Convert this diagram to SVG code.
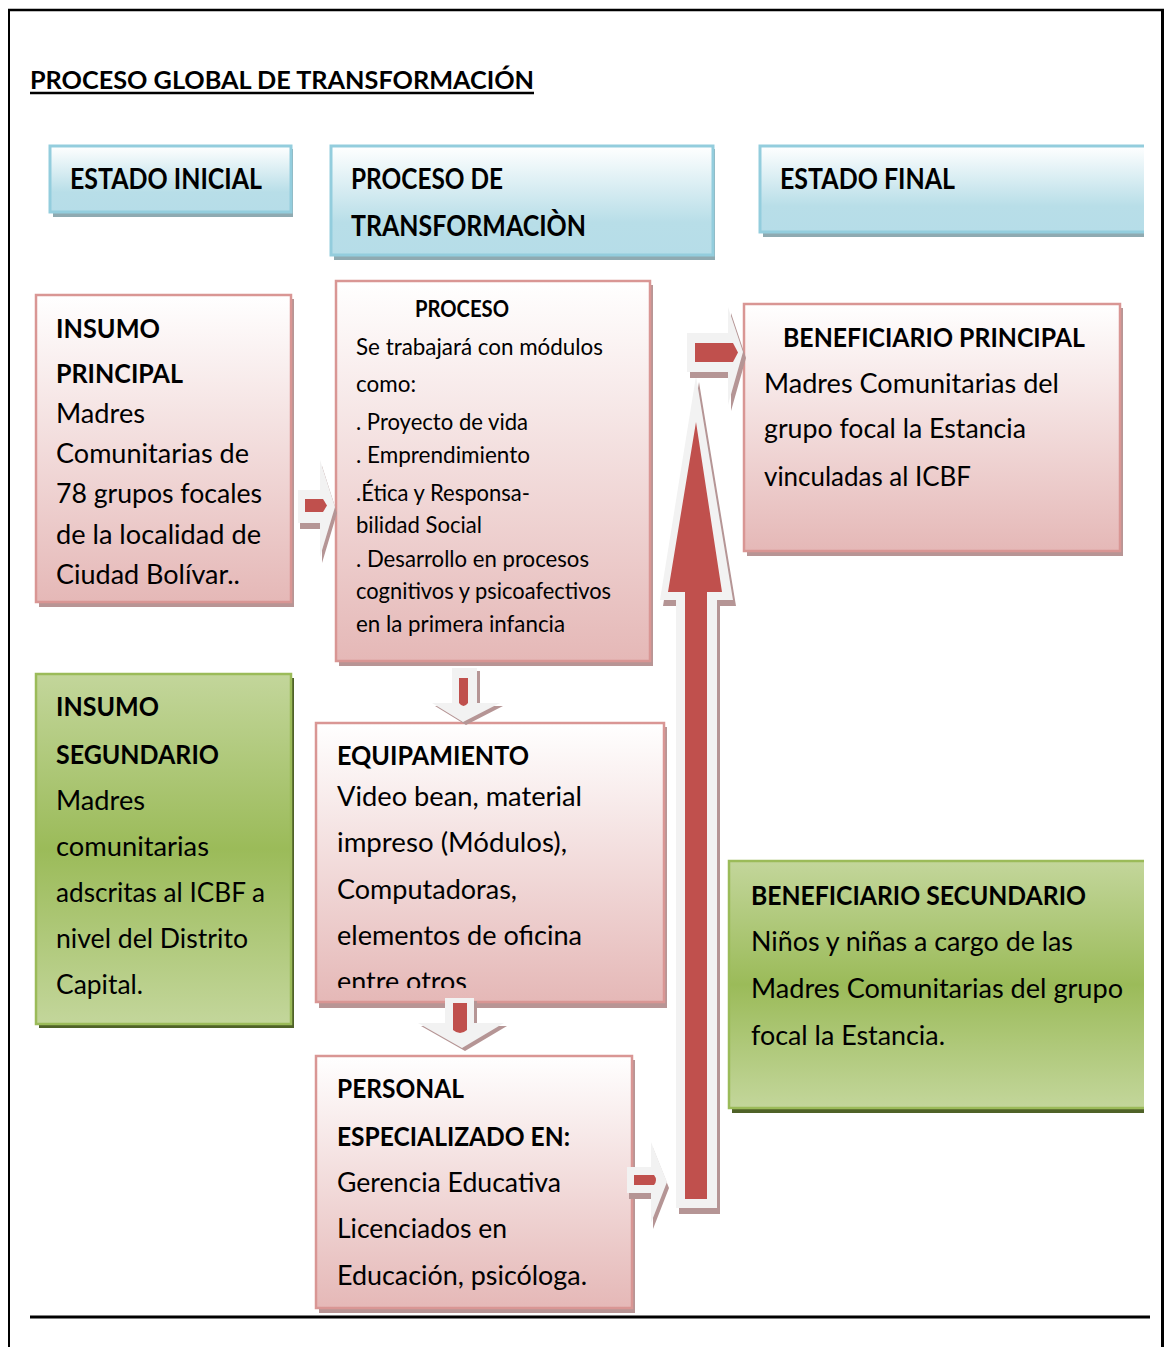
<svg xmlns="http://www.w3.org/2000/svg" width="1167" height="1347" viewBox="0 0 1167 1347">
<style>
.t{font-family:Lato,"Open Sans","Liberation Sans",sans-serif;fill:#000}
.b{font-weight:bold}
.bl{fill:url(#gBlue);stroke:#93cddd;stroke-width:3}
.pk{fill:url(#gPink);stroke:#d99694;stroke-width:2.5}
.gr{fill:url(#gGreen);stroke:#9bbb59;stroke-width:2.5}
.shB{fill:#8faab1}
.shP{fill:#b89595}
.shG{fill:#4f6228}
.ag{fill:#f2f2f2}
.ar{fill:#c0504d}
.as{fill:#b59595}
</style>
<defs>
<linearGradient id="gBlue" x1="0" y1="0" x2="0" y2="1">
<stop offset="0" stop-color="#ffffff"/><stop offset="0.7" stop-color="#b8dee8"/><stop offset="1" stop-color="#b6dde8"/>
</linearGradient>
<linearGradient id="gPink" x1="0" y1="0" x2="0" y2="1">
<stop offset="0" stop-color="#ffffff"/><stop offset="1" stop-color="#e5b8b7"/>
</linearGradient>
<linearGradient id="gGreen" x1="0" y1="0" x2="0" y2="1">
<stop offset="0" stop-color="#c3d69b"/><stop offset="0.5" stop-color="#9bbb59"/><stop offset="1" stop-color="#c3d69b"/>
</linearGradient>
<clipPath id="clipR"><rect x="0" y="0" width="1144" height="1347"/></clipPath>
<clipPath id="clipEq"><rect x="315" y="722" width="350" height="266"/></clipPath>
</defs>
<rect x="0" y="0" width="1167" height="1347" fill="#ffffff"/>
<g id="frame">
<line x1="8" y1="10" x2="1164" y2="10" stroke="#000" stroke-width="2.5"/>
<line x1="9" y1="10" x2="9" y2="1347" stroke="#000" stroke-width="2"/>
<line x1="1162.5" y1="10" x2="1162.5" y2="1347" stroke="#000" stroke-width="3"/>
<line x1="30" y1="1317" x2="1150" y2="1317" stroke="#000" stroke-width="3"/>
</g>
<g id="title">
<text class="t b" x="30" y="89" font-size="24" textLength="504" lengthAdjust="spacingAndGlyphs">PROCESO GLOBAL DE TRANSFORMACIÓN</text>
<line x1="30" y1="93" x2="534" y2="93" stroke="#000" stroke-width="2.5"/>
</g>
<g id="estado-inicial">
<rect class="shB" x="53" y="149" width="240" height="68"/>
<rect class="bl" x="50" y="146" width="241" height="66"/>
<text class="t b" x="70" y="189" font-size="28" textLength="192" lengthAdjust="spacingAndGlyphs">ESTADO INICIAL</text>
</g>
<g id="proceso-transformacion">
<rect class="shB" x="334" y="149" width="381" height="111"/>
<rect class="bl" x="331" y="146" width="382" height="109"/>
<text class="t b" x="351" y="189" font-size="28" textLength="152" lengthAdjust="spacingAndGlyphs">PROCESO DE</text>
<text class="t b" x="351" y="236" font-size="28" textLength="235" lengthAdjust="spacingAndGlyphs">TRANSFORMACIÒN</text>
</g>
<g id="estado-final" clip-path="url(#clipR)">
<rect class="shB" x="763" y="149" width="420" height="88"/>
<rect class="bl" x="760" y="146" width="420" height="86"/>
<text class="t b" x="780" y="189" font-size="28" textLength="175" lengthAdjust="spacingAndGlyphs">ESTADO FINAL</text>
</g>
<g id="insumo-principal">
<rect class="shP" x="39" y="299" width="255" height="308"/>
<rect class="pk" x="36" y="295" width="255" height="307"/>
<text class="t b" x="56" y="338" font-size="27" textLength="104" lengthAdjust="spacingAndGlyphs">INSUMO</text>
<text class="t b" x="56" y="383" font-size="27" textLength="127" lengthAdjust="spacingAndGlyphs">PRINCIPAL</text>
<text class="t" x="56" y="423" font-size="27" textLength="89" lengthAdjust="spacingAndGlyphs">Madres</text>
<text class="t" x="56" y="463" font-size="27" textLength="193" lengthAdjust="spacingAndGlyphs">Comunitarias de</text>
<text class="t" x="56" y="503" font-size="27" textLength="206" lengthAdjust="spacingAndGlyphs">78 grupos focales</text>
<text class="t" x="56" y="544" font-size="27" textLength="205" lengthAdjust="spacingAndGlyphs">de la localidad de</text>
<text class="t" x="56" y="584" font-size="27" textLength="184" lengthAdjust="spacingAndGlyphs">Ciudad Bolívar..</text>
</g>
<g id="insumo-segundario">
<rect class="shG" x="39" y="678" width="255" height="350"/>
<rect class="gr" x="36" y="674" width="255" height="350"/>
<text class="t b" x="56" y="716" font-size="27" textLength="103" lengthAdjust="spacingAndGlyphs">INSUMO</text>
<text class="t b" x="56" y="764" font-size="27" textLength="163" lengthAdjust="spacingAndGlyphs">SEGUNDARIO</text>
<text class="t" x="56" y="810" font-size="27" textLength="89" lengthAdjust="spacingAndGlyphs">Madres</text>
<text class="t" x="56" y="856" font-size="27" textLength="153" lengthAdjust="spacingAndGlyphs">comunitarias</text>
<text class="t" x="56" y="902" font-size="27" textLength="209" lengthAdjust="spacingAndGlyphs">adscritas al ICBF a</text>
<text class="t" x="56" y="948" font-size="27" textLength="192" lengthAdjust="spacingAndGlyphs">nivel del Distrito</text>
<text class="t" x="56" y="994" font-size="27" textLength="87" lengthAdjust="spacingAndGlyphs">Capital.</text>
</g>
<g id="proceso">
<rect class="shP" x="339" y="285" width="314" height="381"/>
<rect class="pk" x="336" y="281" width="314" height="380"/>
<text class="t b" x="415" y="317" font-size="23" textLength="94" lengthAdjust="spacingAndGlyphs">PROCESO</text>
<text class="t" x="356" y="355" font-size="23" textLength="247" lengthAdjust="spacingAndGlyphs">Se trabajará con módulos</text>
<text class="t" x="356" y="392" font-size="23" textLength="60" lengthAdjust="spacingAndGlyphs">como:</text>
<text class="t" x="356" y="430" font-size="23" textLength="172" lengthAdjust="spacingAndGlyphs">. Proyecto de vida</text>
<text class="t" x="356" y="463" font-size="23" textLength="174" lengthAdjust="spacingAndGlyphs">. Emprendimiento</text>
<text class="t" x="356" y="501" font-size="23" textLength="174" lengthAdjust="spacingAndGlyphs">.Ética y Responsa-</text>
<text class="t" x="356" y="533" font-size="23" textLength="126" lengthAdjust="spacingAndGlyphs">bilidad Social</text>
<text class="t" x="356" y="567" font-size="23" textLength="233" lengthAdjust="spacingAndGlyphs">. Desarrollo en procesos</text>
<text class="t" x="356" y="599" font-size="23" textLength="255" lengthAdjust="spacingAndGlyphs">cognitivos y psicoafectivos</text>
<text class="t" x="356" y="632" font-size="23" textLength="209" lengthAdjust="spacingAndGlyphs">en la primera infancia</text>
</g>
<g id="equipamiento">
<rect class="shP" x="319" y="727" width="348" height="281"/>
<rect class="pk" x="316" y="723" width="348" height="279"/>
<text class="t b" x="337" y="765" font-size="27" textLength="192" lengthAdjust="spacingAndGlyphs">EQUIPAMIENTO</text>
<text class="t" x="337" y="806" font-size="27" textLength="245" lengthAdjust="spacingAndGlyphs">Video bean, material</text>
<text class="t" x="337" y="852" font-size="27" textLength="230" lengthAdjust="spacingAndGlyphs">impreso (Módulos),</text>
<text class="t" x="337" y="899" font-size="27" textLength="180" lengthAdjust="spacingAndGlyphs">Computadoras,</text>
<text class="t" x="337" y="945" font-size="27" textLength="245" lengthAdjust="spacingAndGlyphs">elementos de oficina</text>
<text class="t" x="337" y="991" font-size="27" textLength="130" lengthAdjust="spacingAndGlyphs" clip-path="url(#clipEq)">entre otros</text>
</g>
<g id="personal">
<rect class="shP" x="319" y="1060" width="316" height="253"/>
<rect class="pk" x="316" y="1056" width="316" height="252"/>
<text class="t b" x="337" y="1098" font-size="27" textLength="127" lengthAdjust="spacingAndGlyphs">PERSONAL</text>
<text class="t b" x="337" y="1146" font-size="27" textLength="233" lengthAdjust="spacingAndGlyphs">ESPECIALIZADO EN:</text>
<text class="t" x="337" y="1192" font-size="27" textLength="224" lengthAdjust="spacingAndGlyphs">Gerencia Educativa</text>
<text class="t" x="337" y="1238" font-size="27" textLength="170" lengthAdjust="spacingAndGlyphs">Licenciados en</text>
<text class="t" x="337" y="1285" font-size="27" textLength="250" lengthAdjust="spacingAndGlyphs">Educación, psicóloga.</text>
</g>
<g id="beneficiario-principal">
<rect class="shP" x="747" y="308" width="376" height="248"/>
<rect class="pk" x="744" y="304" width="376" height="247"/>
<text class="t b" x="783" y="347" font-size="27" textLength="302" lengthAdjust="spacingAndGlyphs">BENEFICIARIO PRINCIPAL</text>
<text class="t" x="764" y="393" font-size="27" textLength="295" lengthAdjust="spacingAndGlyphs">Madres Comunitarias del</text>
<text class="t" x="764" y="438" font-size="27" textLength="262" lengthAdjust="spacingAndGlyphs">grupo focal la Estancia</text>
<text class="t" x="764" y="486" font-size="27" textLength="207" lengthAdjust="spacingAndGlyphs">vinculadas al ICBF</text>
</g>
<g id="beneficiario-secundario" clip-path="url(#clipR)">
<rect class="shG" x="732" y="865" width="440" height="248"/>
<rect class="gr" x="729" y="861" width="440" height="247"/>
<text class="t b" x="751" y="905" font-size="27" textLength="335" lengthAdjust="spacingAndGlyphs">BENEFICIARIO SECUNDARIO</text>
<text class="t" x="751" y="951" font-size="27" textLength="322" lengthAdjust="spacingAndGlyphs">Niños y niñas a cargo de las</text>
<text class="t" x="751" y="998" font-size="27" textLength="372" lengthAdjust="spacingAndGlyphs">Madres Comunitarias del grupo</text>
<text class="t" x="751" y="1045" font-size="27" textLength="194" lengthAdjust="spacingAndGlyphs">focal la Estancia.</text>
</g>
<g id="connectors">
<g id="arrow-insumo-proceso">
<path class="as" transform="translate(2,6)" d="M298,490 L320,490 L320,460 L335,507 L320,557 L320,523 L298,523 Z"/>
<path class="ag" d="M298,490 L320,490 L320,460 L335,507 L320,557 L320,523 L298,523 Z"/>
<path class="ar" d="M305,499 L323,499 L327,505.5 L323,512 L305,512 Z"/>
</g>
<g id="arrow-proceso-equipamiento">
<path class="as" transform="translate(3,3)" d="M452,668 L477,668 L477,703 L500,703 L463,722 L432,703 L452,703 Z"/>
<path class="ag" d="M452,668 L477,668 L477,703 L500,703 L463,722 L432,703 L452,703 Z"/>
<path class="ar" d="M459,678 L468,678 L468,703 Q463.5,709 459,703 Z"/>
</g>
<g id="arrow-equipamiento-personal">
<path class="as" transform="translate(3,3)" d="M445,998 L474,998 L474,1023 L504,1023 L462,1048 L418,1023 L445,1023 Z"/>
<path class="ag" d="M445,998 L474,998 L474,1023 L504,1023 L462,1048 L418,1023 L445,1023 Z"/>
<path class="ar" d="M453,1003 L467,1003 L467,1030 Q460,1036 453,1030 Z"/>
</g>
<g id="arrow-personal-up">
<path class="as" transform="translate(2,6)" d="M627,1167 L651,1167 L651,1142 L667,1182 L651,1223 L651,1193 L627,1193 Z"/>
<path class="ag" d="M627,1167 L651,1167 L651,1142 L667,1182 L651,1223 L651,1193 L627,1193 Z"/>
<path class="ar" d="M634,1175 L654,1175 Q658,1180 654,1185 L634,1185 Z"/>
</g>
<g id="arrow-up">
<path class="as" transform="translate(3,6)" d="M676,1208 L676,600 L660,600 L696,376 L733,600 L717,600 L717,1208 Z"/>
<path class="ag" d="M676,1208 L676,600 L660,600 L696,376 L733,600 L717,600 L717,1208 Z"/>
<path class="ar" d="M685,1199 L685,592 L668,592 L696,422 L722,592 L707,592 L707,1199 Z"/>
</g>
<g id="arrow-beneficiario">
<path class="as" transform="translate(3,6)" d="M687,333 L728,333 L728,307 L743,352 L728,405 L728,372 L687,372 Z"/>
<path class="ag" d="M687,333 L728,333 L728,307 L743,352 L728,405 L728,372 L687,372 Z"/>
<path class="ar" d="M695,343 L733,343 L738,352.5 L733,362 L695,362 Z"/>
</g>
</g>
</svg>
